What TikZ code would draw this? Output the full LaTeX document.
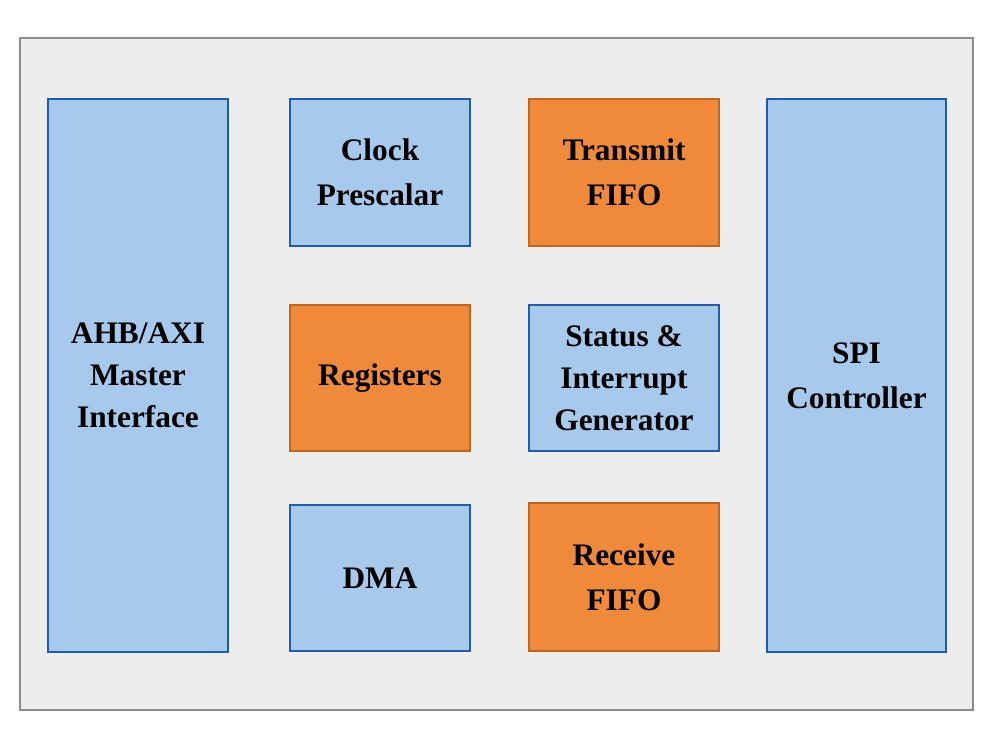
\documentclass[tikz,border=0pt]{standalone}
\usepackage{fontspec}
\setmainfont{Liberation Serif}

\definecolor{panelgray}{HTML}{EDEDED}
\definecolor{panelline}{HTML}{8C8C8C}
\definecolor{blockblue}{HTML}{A7C9EC}
\definecolor{blockblueline}{HTML}{1F5BAE}
\definecolor{blockorange}{HTML}{EE8A3A}
\definecolor{blockorangeline}{HTML}{C0661F}

\tikzset{
  block/.style={inner sep=0pt, align=center, line width=1.2pt,
    font=\fontsize{23.5}{33.5}\selectfont\bfseries},
  tightblock/.style={font=\fontsize{23.5}{31.5}\selectfont\bfseries},
  bluebox/.style={block, draw=blockblueline, fill=blockblue},
  orangebox/.style={block, draw=blockorangeline, fill=blockorange}
}

\begin{document}
\begin{tikzpicture}[x=0.75pt,y=-0.75pt]
\useasboundingbox (0,0) rectangle (994,729);
\draw[panelline, fill=panelgray, line width=1.5pt] (20,38) rectangle (973,710);

\node[bluebox, tightblock, minimum width=135pt, minimum height=414.75pt] (ahb) at (138,375.5) {AHB/AXI\\Master\\Interface};
\node[bluebox, minimum width=135pt, minimum height=110.25pt] (clock) at (380,172.5) {Clock\\Prescalar};
\node[orangebox, minimum width=142.5pt, minimum height=110.25pt] (txfifo) at (624,172.5) {Transmit\\FIFO};
\node[bluebox, minimum width=134.25pt, minimum height=414.75pt] (spi) at (856.5,375.5) {SPI\\Controller};
\node[orangebox, minimum width=135pt, minimum height=109.5pt] (regs) at (380,378) {Registers};
\node[bluebox, tightblock, minimum width=142.5pt, minimum height=109.5pt] (status) at (624,378) {Status \&\\Interrupt\\Generator};
\node[bluebox, minimum width=135pt, minimum height=109.5pt] (dma) at (380,578) {DMA};
\node[orangebox, minimum width=142.5pt, minimum height=111pt] (rxfifo) at (624,577) {Receive\\FIFO};
\end{tikzpicture}
\end{document}
